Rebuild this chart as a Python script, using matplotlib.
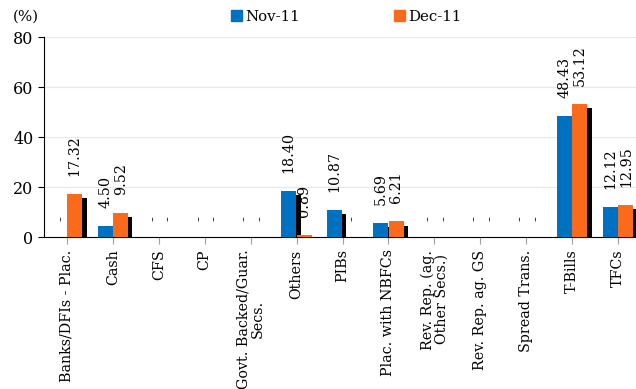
import numpy as np
import matplotlib
matplotlib.use("Agg")
import matplotlib.pyplot as plt
import matplotlib.patheffects as pe
from matplotlib.patches import Patch

categories = ["Banks/DFIs - Plac.", "Cash", "CFS", "CP", "Govt. Backed/Guar.\nSecs.",
              "Others", "PIBs", "Plac. with NBFCs", "Rev. Rep. (ag.\nOther Secs.)",
              "Rev. Rep. ag. GS", "Spread Trans.", "T-Bills", "TFCs"]
nov_11 = [0, 4.50, 0, 0, 0, 18.40, 10.87, 5.69, 0, 0, 0, 48.43, 12.12]
dec_11 = [17.32, 9.52, 0, 0, 0, 0.89, 0, 6.21, 0, 0, 0, 53.12, 12.95]

plt.rcParams['font.family'] = ['DejaVu Serif']
fs = 10.3

fig = plt.figure(figsize=(6.36, 3.89), dpi=100)
ax = fig.add_axes([44/636, 1-237/389, 597/636, 200/389])

x = np.arange(len(categories))
w = 0.33
shadow = [pe.SimplePatchShadow(offset=(3, -3), shadow_rgbFace='black', alpha=1.0), pe.Normal()]
colors = ['#0070C0', '#F96B1B']
handles = []

for vals, off, col, lab in [(nov_11, -0.17, colors[0], 'Nov-11'), (dec_11, 0.17, colors[1], 'Dec-11')]:
    bars = ax.bar(x + off, vals, w, color=col, linewidth=0, zorder=3)
    handles.append(Patch(color=col, label=lab))
    for b, v in zip(bars, vals):
        if v > 0:
            b.set_path_effects(shadow)
            ax.annotate(f"{v:.2f}", (b.get_x() + b.get_width()/2, v), xytext=(0, 13),
                        textcoords='offset points', rotation=90, ha='center', va='bottom',
                        fontsize=fs)
        else:
            ax.annotate("-", (b.get_x() + b.get_width()/2, 0), xytext=(1.5, 13.5),
                        textcoords='offset points', rotation=90, ha='center', va='center',
                        fontsize=fs)

ax.set_xlim(-0.5, len(categories) - 0.5)
ax.set_ylim(0, 80)
ax.set_yticks([0, 20, 40, 60, 80])
ax.set_xticks(x)
ax.set_xticklabels(categories, rotation=90, fontsize=fs, linespacing=1.0)
ax.tick_params(axis='x', length=5, color='#A0A0A0', pad=4)
ax.tick_params(axis='y', labelsize=11.5, length=4)
ax.yaxis.grid(True, color='#E8E8E8', linewidth=0.8, zorder=0)
ax.set_axisbelow(True)
for s in ['top', 'right']:
    ax.spines[s].set_visible(False)

fig.text(13/636, 1-17/389, "(%)", fontsize=fs + 0.5, va='center', ha='left')
fig.legend(handles=handles, loc='center', bbox_to_anchor=(346/636, 1-17/389), ncol=2,
           frameon=False, fontsize=fs + 0.5, handlelength=0.75, handleheight=0.75,
           handletextpad=0.2, columnspacing=6.3)

fig.savefig("out.png", dpi=100)
